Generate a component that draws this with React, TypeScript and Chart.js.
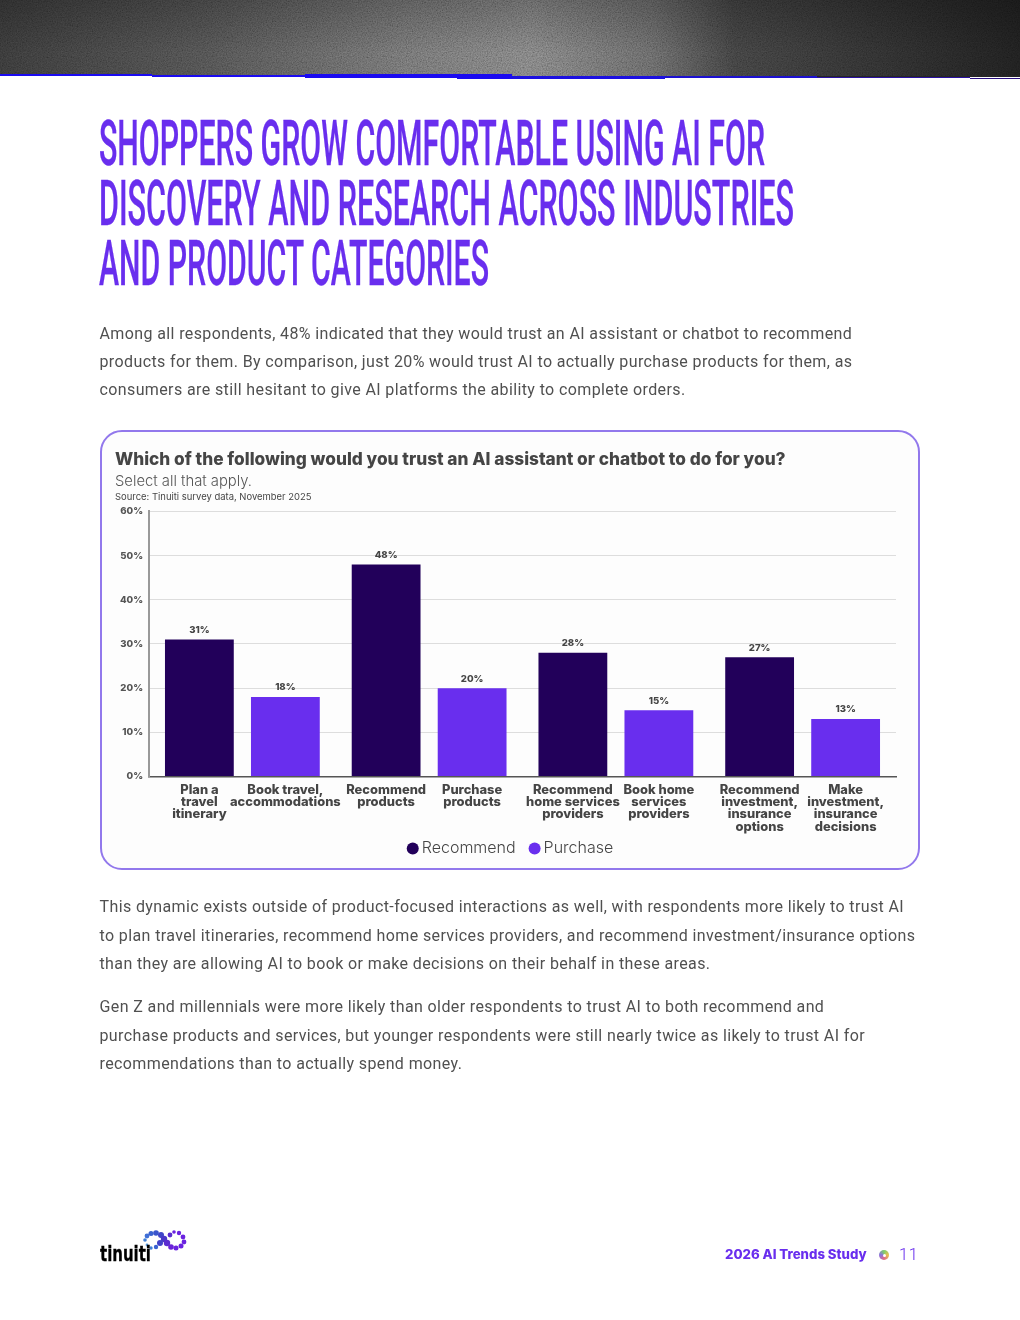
import React, { useEffect, useRef } from "react";
import { Chart, registerables } from "chart.js";

Chart.register(...registerables);

const groups = ["Plan / book travel", "Products", "Home services", "Investment, insurance"];
const recommendValues = [31, 48, 28, 27];
const purchaseValues = [18, 20, 15, 13];
const recommendLabels = [
  ["Plan a", "travel", "itinerary"],
  ["Recommend", "products"],
  ["Recommend", "home services", "providers"],
  ["Recommend", "investment,", "insurance", "options"],
];
const purchaseLabels = [
  ["Book travel,", "accommodations"],
  ["Purchase", "products"],
  ["Book home", "services", "providers"],
  ["Make", "investment,", "insurance", "decisions"],
];
const yTicks = [0, 10, 20, 30, 40, 50, 60];
const chartTitle = "Which of the following would you trust an AI assistant or chatbot to do for you?";
const chartSubtitle = "Select all that apply.";
const chartSource = "Source: Tinuiti survey data, November 2025";

const DARK = "#22005a";
const PURPLE = "#692eee";
const TEXT = "#454545";
const BODY = "#505050";
const UI = "Inter, sans-serif";

const headingLines: [string, number, number][] = [
  ["SHOPPERS GROW COMFORTABLE USING AI FOR", 165, 666],
  ["DISCOVERY AND RESEARCH ACROSS INDUSTRIES", 225, 695],
  ["AND PRODUCT CATEGORIES", 285, 390],
];
const para1 = [
  "Among all respondents, 48% indicated that they would trust an AI assistant or chatbot to recommend",
  "products for them. By comparison, just 20% would trust AI to actually purchase products for them, as",
  "consumers are still hesitant to give AI platforms the ability to complete orders.",
];
const para2 = [
  "This dynamic exists outside of product-focused interactions as well, with respondents more likely to trust AI",
  "to plan travel itineraries, recommend home services providers, and recommend investment/insurance options",
  "than they are allowing AI to book or make decisions on their behalf in these areas.",
];
const para3 = [
  "Gen Z and millennials were more likely than older respondents to trust AI to both recommend and",
  "purchase products and services, but younger respondents were still nearly twice as likely to trust AI for",
  "recommendations than to actually spend money.",
];
const blueSteps: [number, number, number, number, string][] = [
  [0, 152, 74, 2, "#1a0af0"],
  [152, 153, 75, 2, "#1a0af0"],
  [305, 152, 74, 4, "#1a0af0"],
  [457, 55, 74, 5, "#1a0af0"],
  [512, 153, 75.5, 3, "#1c10e0"],
  [665, 152, 76, 2, "#1c10d0"],
  [817, 153, 77, 1, "#2a10a0"],
  [970, 50, 78, 1, "#2a1080"],
];
const logoDots: [number, number, number, string][] = [
  [145, 1240, 1.8, "#3f7fd6"], [147, 1236, 2.4, "#3f6fd6"], [151, 1233.5, 2.5, "#3a62d0"], [156, 1233, 2.8, "#3a55cc"],
  [161, 1235, 3, "#3f45c8"], [164, 1239, 3.2, "#4a38c8"], [167, 1243, 3.2, "#5a2cd0"], [171, 1247, 2.8, "#6a22d8"],
  [176, 1248, 2.5, "#6a22e0"], [181, 1246, 2.5, "#6a22e0"], [184, 1242, 2.4, "#6a22e0"], [183, 1237, 2.4, "#6a22e0"],
  [179, 1233, 2.2, "#6a22e0"], [174, 1232, 1.8, "#6a22e0"], [170, 1235, 2.4, "#5a2cd0"], [160, 1243, 3, "#4040c8"],
  [156, 1247, 2.2, "#3a62d0"], [151, 1248, 1.7, "#3f7fd6"], [147, 1245, 1.4, "#5f9fe0"],
];

const barLabelsPlugin = {
  id: "barLabels",
  afterDatasetsDraw(chart: any) {
    const { ctx } = chart;
    const bottom = chart.scales.y.getPixelForValue(0);
    const sets = [recommendLabels, purchaseLabels];
    ctx.save();
    ctx.textAlign = "center";
    ctx.textBaseline = "middle";
    ctx.fillStyle = TEXT;
    chart.data.datasets.forEach((ds: any, d: number) => {
      chart.getDatasetMeta(d).data.forEach((bar: any, i: number) => {
        ctx.font = `800 9.6px ${UI}`;
        ctx.fillText(`${ds.data[i]}%`, bar.x, bar.y - 9.5);
        ctx.font = `800 12.9px ${UI}`;
        sets[d][i].forEach((line: string, l: number) => {
          ctx.fillText(line, bar.x, bottom + 13.5 + l * 12.3);
        });
      });
    });
    ctx.restore();
  },
};

function BarChart() {
  const ref = useRef<HTMLCanvasElement>(null);
  useEffect(() => {
    const chart = new Chart(ref.current!, {
      type: "bar",
      data: {
        labels: groups,
        datasets: [
          { label: "Recommend", data: recommendValues, backgroundColor: DARK, pointStyle: "circle" },
          { label: "Purchase", data: purchaseValues, backgroundColor: PURPLE, pointStyle: "circle" },
        ],
      },
      plugins: [barLabelsPlugin],
      options: {
        animation: false,
        responsive: false,
        layout: { padding: { left: 15, right: 10, top: 19.5, bottom: 23.5 } },
        datasets: { bar: { categoryPercentage: 0.921, barPercentage: 0.8 } },
        plugins: {
          title: {
            display: true,
            text: chartTitle,
            align: "start",
            color: TEXT,
            font: { family: UI, size: 17.25, weight: "800" },
            padding: { top: 0, bottom: 2.5 },
          },
          subtitle: {
            display: true,
            text: chartSubtitle,
            align: "start",
            color: "#555555",
            font: { family: UI, size: 14.8, weight: "300" },
            padding: { top: 0, bottom: 21 },
          },
          legend: {
            position: "bottom",
            labels: {
              usePointStyle: true,
              boxHeight: 8.5,
              boxWidth: 2,
              padding: 18,
              color: TEXT,
              font: { family: UI, size: 16, weight: "300" },
            },
          },
          tooltip: { enabled: false },
        },
        scales: {
          x: {
            grid: { display: false },
            border: { color: "#555555", width: 1.5 },
            ticks: { display: false },
            afterFit(s: any) { s.height = 46; },
          },
          y: {
            min: 0,
            max: 60,
            afterBuildTicks(s: any) { s.ticks = yTicks.map((value) => ({ value })); },
            grid: { color: "#dddddd", lineWidth: 1, drawTicks: false },
            border: { color: "#999999", width: 2 },
            ticks: {
              padding: 6,
              color: "#555555",
              font: { family: UI, size: 9.6, weight: "800" },
              callback: (v: any) => `${v}%`,
            },
            afterFit(s: any) { s.width = 34; },
          },
          y2: {
            position: "right",
            grid: { display: false },
            border: { display: false },
            ticks: { display: false },
            afterFit(s: any) { s.width = 14; },
          },
        },
      },
    } as any);
    return () => chart.destroy();
  }, []);
  return (
    <canvas
      ref={ref}
      width={820}
      height={460}
      style={{ position: "absolute", left: 100, top: 430, width: 820, height: 460 }}
    />
  );
}

function Para({ lines, top, step = 28.5 }: { lines: string[]; top: number; step?: number }) {
  return (
    <div
      style={{
        position: "absolute", left: 99.5, top, font: "400 16px/" + step + "px Roboto, sans-serif",
        letterSpacing: "0.385px", color: BODY, whiteSpace: "nowrap",
      }}
    >
      {lines.map((l) => <div key={l}>{l}</div>)}
    </div>
  );
}

export default function App() {
  return (
    <div style={{ position: "absolute", left: 0, top: 0, width: 1020, height: 1320, overflow: "hidden", background: "#fff" }}>
      <div
        style={{
          position: "absolute", left: 0, top: 0, width: 1020, height: 76,
          background: "linear-gradient(90deg,#333 0%,#484848 20%,#666 40%,#727272 52%,#5c5c5c 64%,#3a3a3a 72%,#2c2c2c 85%,#1c1c1c 100%)",
        }}
      />
      <div style={{ position: "absolute", left: 817, top: 76, width: 203, height: 1, background: "#252525" }} />
      <div
        style={{
          position: "absolute", left: 0, top: 0, width: 1020, height: 76,
          background: "linear-gradient(180deg,rgba(0,0,0,0.22) 0%,rgba(0,0,0,0) 70%)",
        }}
      />
      <svg width="1020" height="76" style={{ position: "absolute", left: 0, top: 0, opacity: 0.45, mixBlendMode: "overlay" }}>
        <filter id="grain">
          <feTurbulence type="fractalNoise" baseFrequency="0.8" numOctaves="2" />
          <feColorMatrix type="matrix" values="1 0 0 0 0 1 0 0 0 0 1 0 0 0 0 0 0 0 0 1" />
        </filter>
        <rect width="1020" height="76" filter="url(#grain)" />
      </svg>
      {blueSteps.map(([x, w, y, h, c], i) => (
        <div key={i} style={{ position: "absolute", left: x, top: y, width: w, height: h, background: c }} />
      ))}

      <svg width="1020" height="300" style={{ position: "absolute", left: 0, top: 0 }}>
        {headingLines.map(([t, y, w]) => (
          <text
            key={t} x="99" y={y} textLength={w} lengthAdjust="spacingAndGlyphs" fill={PURPLE}
            stroke={PURPLE} strokeWidth="0.3"
            style={{ font: "500 63px Roboto, sans-serif" }}
          >
            {t}
          </text>
        ))}
      </svg>

      <Para lines={para1} top={319.5} step={28.1} />
      <div
        style={{
          position: "absolute", left: 100, top: 430, width: 820, height: 440, boxSizing: "border-box",
          border: "2.5px solid #9278ec", borderRadius: 22, background: "#fdfdfd",
        }}
      />
      <BarChart />
      <div style={{ position: "absolute", left: 115, top: 490, font: "400 9.45px/13px Inter, sans-serif", color: TEXT, whiteSpace: "nowrap" }}>
        {chartSource}
      </div>
      <Para lines={para2} top={893} />
      <Para lines={para3} top={993} />

      <svg width="120" height="60" viewBox="90 1220 120 60" style={{ position: "absolute", left: 90, top: 1220 }}>
        {logoDots.map(([x, y, r, c], i) => <circle key={i} cx={x} cy={y} r={r} fill={c} />)}
        <text x="100" y="1261" textLength="51" lengthAdjust="spacingAndGlyphs" fill="#000" stroke="#000" strokeWidth="0.3" style={{ font: "700 21px 'DejaVu Sans', sans-serif" }}>tinuiti</text>
      </svg>
      <div style={{ position: "absolute", left: 725, top: 1246, font: "800 13.2px/17px Inter, sans-serif", color: PURPLE, whiteSpace: "nowrap" }}>
        2026 AI Trends Study
      </div>
      <div style={{ position: "absolute", left: 879, top: 1250, width: 10, height: 10, borderRadius: 5, background: "conic-gradient(#7ccf6a,#e8c050,#e06a8a,#8a70e0,#7ccf6a)" }}>
        <div style={{ position: "absolute", left: 3.5, top: 3.5, width: 3, height: 3, borderRadius: 2, background: "#fff" }} />
      </div>
      <div style={{ position: "absolute", left: 899, top: 1245, font: "300 16.5px/20px Roboto, sans-serif", letterSpacing: "0.5px", color: PURPLE }}>11</div>
    </div>
  );
}
